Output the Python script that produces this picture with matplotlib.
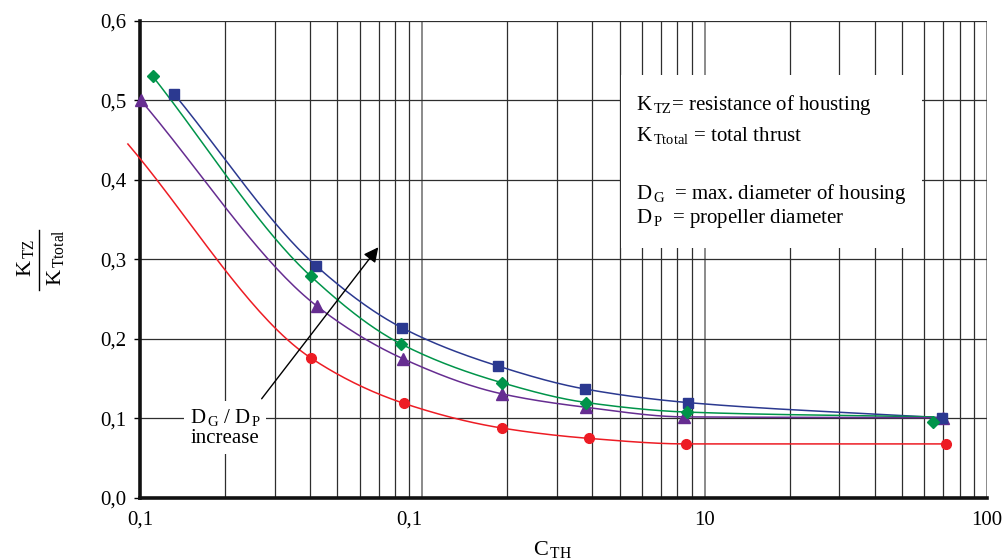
import numpy as np
import matplotlib
matplotlib.use('Agg')
import matplotlib.pyplot as plt
from matplotlib.patches import Rectangle
from matplotlib.lines import Line2D
from matplotlib.ticker import NullFormatter, FixedLocator

plt.rcParams['font.family'] = 'Liberation Serif'
plt.rcParams['mathtext.fontset'] = 'custom'
plt.rcParams['mathtext.rm'] = 'Liberation Serif'
plt.rcParams['mathtext.it'] = 'Liberation Serif:italic'

# VALUES: C_TH (x) AND K_TZ / K_Ttotal (y)
blue_x = [0.132, 0.420, 0.847, 1.85, 3.77, 8.70, 69.2]
blue_y = [0.508, 0.292, 0.214, 0.166, 0.137, 0.120, 0.101]
green_x = [0.111, 0.402, 0.837, 1.91, 3.81, 8.66, 64.2]
green_y = [0.530, 0.279, 0.194, 0.145, 0.120, 0.108, 0.095]
green_curve_end = 0.102   # the drawn green curve ends above its last marker
purple_x = [0.1006, 0.424, 0.855, 1.91, 3.81, 8.42, 69.9]
purple_y = [0.500, 0.241, 0.175, 0.131, 0.114, 0.102, 0.101]
# first red point lies left of the axis (curve only, no marker shown)
red_x = [0.0906, 0.403, 0.860, 1.91, 3.88, 8.61, 71.8]
red_y = [0.445, 0.176, 0.119, 0.088, 0.075, 0.068, 0.068]

y_ticks = [0.0, 0.1, 0.2, 0.3, 0.4, 0.5, 0.6]
y_tick_labels = ['0,0', '0,1', '0,2', '0,3', '0,4', '0,5', '0,6']
x_ticks = [0.1, 1, 10, 100]
x_tick_labels = ['0,1', '0,1', '10', '100']

BLUE = '#2b3990'
GREEN = '#00944a'
PURPLE = '#662d91'
RED = '#ed1c24'


# MONOTONE CUBIC (FRITSCH-CARLSON) THROUGH THE POINTS IN LOG-X SPACE, SO THE LINE IS SMOOTH LIKE THE ORIGINAL
def smooth(xs, ys, n=40):
    x = np.log10(np.asarray(xs, float))
    y = np.asarray(ys, float)
    h = np.diff(x)
    d = np.diff(y) / h
    m = np.zeros_like(y)
    m[0] = d[0]
    m[-1] = d[-1]
    for k in range(1, len(y) - 1):
        if d[k - 1] * d[k] <= 0:
            m[k] = 0
        else:
            w1 = 2 * h[k] + h[k - 1]
            w2 = h[k] + 2 * h[k - 1]
            m[k] = (w1 + w2) / (w1 / d[k - 1] + w2 / d[k])
    out_x, out_y = [], []
    for k in range(len(h)):
        t = np.linspace(0, 1, n)
        h00 = 2 * t**3 - 3 * t**2 + 1
        h10 = t**3 - 2 * t**2 + t
        h01 = -2 * t**3 + 3 * t**2
        h11 = t**3 - t**2
        yy = h00 * y[k] + h10 * h[k] * m[k] + h01 * y[k + 1] + h11 * h[k] * m[k + 1]
        xx = x[k] + t * h[k]
        out_x.extend(xx)
        out_y.extend(yy)
    return 10 ** np.array(out_x), np.array(out_y)


fig = plt.figure(figsize=(10.05, 5.6), dpi=100)
ax = fig.add_axes([0.1393, 0.1107, 0.8428, 0.8523])
ax.set_xscale('log')
ax.set_xlim(0.1, 100)
ax.set_ylim(0, 0.6)

# GRID
ax.xaxis.set_major_locator(FixedLocator(x_ticks))
ax.xaxis.set_minor_locator(FixedLocator([m * 10.0**e for e in (-1, 0, 1) for m in range(2, 10)]))
ax.xaxis.set_minor_formatter(NullFormatter())
ax.set_xticklabels(x_tick_labels)
ax.set_yticks(y_ticks)
ax.set_yticklabels(y_tick_labels)
ax.grid(which='major', axis='x', color='#8a8a8a', lw=1.4)
ax.grid(which='minor', axis='x', color='#2e2e2e', lw=0.9)
ax.grid(which='major', axis='y', color='#2e2e2e', lw=0.9)
ax.axhline(0.6, color='#8a8a8a', lw=1.4, zorder=1.5)

ax.tick_params(axis='x', which='both', length=0, pad=9, labelsize=15)
ax.tick_params(axis='y', length=4, width=1, direction='out', pad=6, labelsize=15)
ax.get_xticklabels()[1].set_ha('right')
for side in ['top', 'right']:
    ax.spines[side].set_visible(False)
for side in ['left', 'bottom']:
    ax.spines[side].set_linewidth(2.6)
    ax.spines[side].set_color('#111111')

# CURVES AND MARKERS
bx, by = smooth(blue_x, blue_y)
ax.plot(bx, by, color=BLUE, lw=1.1, zorder=3)
ax.plot(blue_x, blue_y, ls='none', marker='s', ms=7, color=BLUE, zorder=4, clip_on=False)

gx, gy = smooth(green_x, green_y[:-1] + [green_curve_end])
ax.plot(gx, gy, color=GREEN, lw=1.1, zorder=3)
ax.plot(green_x, green_y, ls='none', marker='D', ms=6.5, color=GREEN, zorder=4, clip_on=False)

px, py = smooth(purple_x, purple_y)
ax.plot(px, py, color=PURPLE, lw=1.1, zorder=3)
ax.plot(purple_x, purple_y, ls='none', marker='^', ms=8, color=PURPLE, zorder=3.9, clip_on=False)

rx, ry = smooth(red_x, red_y)
ax.plot(rx, ry, color=RED, lw=1.1, zorder=3, clip_on=False)
ax.plot(red_x[1:], red_y[1:], ls='none', marker='o', ms=7, color=RED, zorder=4)

# ARROW AND ANNOTATION
ax.annotate('', xy=(0.708, 0.318), xytext=(0.266, 0.122),
            arrowprops=dict(arrowstyle='-|>', color='black', lw=1.0, mutation_scale=22), zorder=5)
ax.text(0.2, 0.089, 'D$_{\\,\\mathrm{G}}$ / D$_{\\,\\mathrm{P}}$\nincrease', ha='center', va='center',
        fontsize=15, linespacing=1.1, zorder=6,
        bbox=dict(fc='white', ec='none', pad=4))

# DEFINITIONS BOX
ax.add_patch(Rectangle((0.568, 0.524), 0.355, 0.362, transform=ax.transAxes,
                       fc='white', ec='none', zorder=2))
notes = ['K$_{\\,\\mathrm{TZ}}$= resistance of housting',
         'K$_{\\,\\mathrm{Ttotal}}$ = total thrust',
         'D$_{\\,\\mathrm{G}}$  = max. diameter of housing',
         'D$_{\\,\\mathrm{P}}$  = propeller diameter']
note_y = [0.813, 0.748, 0.626, 0.576]
for txt, yy in zip(notes, note_y):
    ax.text(0.5856, yy, txt, transform=ax.transAxes, fontsize=15, va='baseline', ha='left', zorder=6)

# AXIS LABELS
fig.text(553 / 1005, 1 - 549 / 560, 'C$_{\\,\\mathrm{TH}}$', ha='center', va='center', fontsize=16)
fig.text(26 / 1005, 1 - 258 / 560, 'K$_{\\,\\mathrm{TZ}}$', rotation=90, ha='center', va='center', fontsize=16)
fig.text(55 / 1005, 1 - 258 / 560, 'K$_{\\,\\mathrm{Ttotal}}$', rotation=90, ha='center', va='center', fontsize=16)
fig.add_artist(Line2D([39 / 1005, 39 / 1005], [1 - 230 / 560, 1 - 290 / 560], color='black', lw=1.0))

fig.savefig('out.png', dpi=100)
